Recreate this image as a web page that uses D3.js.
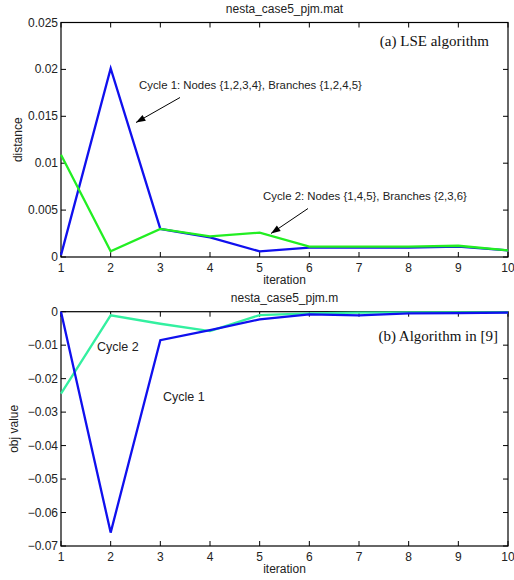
<!DOCTYPE html>
<html><head><meta charset="utf-8">
<script src="https://cdn.jsdelivr.net/npm/d3@7"></script>
<style>body{margin:0;background:#fff}svg{display:block}</style>
</head><body><svg id="c" width="514" height="580" font-family="Liberation Sans, Arial, sans-serif"></svg>
<script>
const iterations = [1,2,3,4,5,6,7,8,9,10];
// top panel: distance
const lseCycle1 = [0.0002,0.0201,0.0030,0.0021,0.0006,0.0010,0.0010,0.0010,0.0011,0.0007];
const lseCycle2 = [0.0109,0.0006,0.0030,0.0022,0.0026,0.0011,0.0011,0.0011,0.0012,0.0007];
// bottom panel: obj value
const algCycle1 = [0,-0.0660,-0.0085,-0.0055,-0.0023,-0.0008,-0.0011,-0.0005,-0.0004,-0.0003];
const algCycle2 = [-0.0245,-0.0011,-0.0036,-0.0058,-0.0010,-0.0005,-0.0003,-0.0002,-0.0002,-0.0002];
const topYTicks = [0,0.005,0.01,0.015,0.02,0.025];
const botYTicks = [0,-0.01,-0.02,-0.03,-0.04,-0.05,-0.06,-0.07];

const svg = d3.select("#c");
const L = 61, R = 508;
const x = d3.scaleLinear().domain([1,10]).range([L,R]);
const FS = 12;

function panel(y0, y1, dom, yticks, fmt, series, titleTxt, ylab, ylabX) {
  const y = d3.scaleLinear().domain(dom).range([y1,y0]);
  const g = svg.append("g");
  g.append("rect").attr("x",L).attr("y",y0).attr("width",R-L).attr("height",y1-y0)
   .attr("fill","none").attr("stroke","#000").attr("stroke-width",1.2);
  const tl = 5;
  iterations.forEach(v=>{
    g.append("line").attr("x1",x(v)).attr("x2",x(v)).attr("y1",y1).attr("y2",y1-tl).attr("stroke","#000");
    g.append("line").attr("x1",x(v)).attr("x2",x(v)).attr("y1",y0).attr("y2",y0+tl).attr("stroke","#000");
    g.append("text").attr("x",x(v)).attr("y",y1+15).attr("text-anchor","middle")
     .attr("font-size",FS).attr("fill","#222").text(v);
  });
  yticks.forEach(v=>{
    g.append("line").attr("x1",L).attr("x2",L+tl).attr("y1",y(v)).attr("y2",y(v)).attr("stroke","#000");
    g.append("line").attr("x1",R).attr("x2",R-tl).attr("y1",y(v)).attr("y2",y(v)).attr("stroke","#000");
    g.append("text").attr("x",L-3).attr("y",y(v)+4).attr("text-anchor","end")
     .attr("font-size",FS).attr("fill","#222").text(fmt(v));
  });
  const line = d3.line().x((d,i)=>x(iterations[i])).y(d=>y(d));
  series.forEach(s=>{
    g.append("path").attr("d",line(s.data)).attr("fill","none").attr("stroke",s.color)
     .attr("stroke-width",2.3).attr("stroke-linejoin","miter");
  });
  g.append("text").attr("x",(L+R)/2).attr("y",y1+27).attr("text-anchor","middle")
   .attr("font-size",FS).attr("fill","#222").text("iteration");
  g.append("text").attr("x",(L+R)/2).attr("y",y0-10).attr("text-anchor","middle")
   .attr("font-size",FS).attr("fill","#222").text(titleTxt);
  g.append("text").attr("transform",`translate(${ylabX},${(y0+y1)/2}) rotate(-90)`)
   .attr("text-anchor","middle").attr("font-size",FS).attr("fill","#222").text(ylab);
  return y;
}

const fmtTop = v => v===0 ? "0" : String(+v.toFixed(3));
const fmtBot = v => v===0 ? "0" : "\u2212" + String(+Math.abs(v).toFixed(2));

panel(22.5, 257, [0,0.025], topYTicks, fmtTop,
  [{data:lseCycle1,color:"#1010ee"},{data:lseCycle2,color:"#22ee22"}],
  "nesta_case5_pjm.mat","distance",22);
panel(311.7, 546, [-0.07,0], botYTicks, fmtBot,
  [{data:algCycle2,color:"#33f0a0"},{data:algCycle1,color:"#1010ee"}],
  "nesta_case5_pjm.m","obj value",18);

const serif = "Liberation Serif, Times New Roman, serif";
svg.append("text").attr("x",489).attr("y",46).attr("text-anchor","end")
  .style("font-family",serif).attr("font-size",15).attr("fill","#111").text("(a) LSE algorithm");
svg.append("text").attr("x",498).attr("y",341).attr("text-anchor","end")
  .style("font-family",serif).attr("font-size",15).attr("fill","#111").text("(b) Algorithm in [9]");

svg.append("text").attr("x",139).attr("y",88.5).attr("font-size",11.4).attr("fill","#222")
  .text("Cycle 1: Nodes {1,2,3,4}, Branches {1,2,4,5}");
svg.append("text").attr("x",263).attr("y",200).attr("font-size",11.4).attr("fill","#222")
  .text("Cycle 2: Nodes {1,4,5}, Branches {2,3,6}");
svg.append("text").attr("x",97).attr("y",351).attr("font-size",12.5).attr("fill","#222").text("Cycle 2");
svg.append("text").attr("x",163).attr("y",401).attr("font-size",12.5).attr("fill","#222").text("Cycle 1");

function arrow(x1,y1,x2,y2){
  svg.append("line").attr("x1",x1).attr("y1",y1).attr("x2",x2).attr("y2",y2)
    .attr("stroke","#000").attr("stroke-width",1);
  const a = Math.atan2(y2-y1,x2-x1), len=10, w=0.35;
  const p = [[x2,y2],[x2-len*Math.cos(a-w),y2-len*Math.sin(a-w)],[x2-len*Math.cos(a+w),y2-len*Math.sin(a+w)]];
  svg.append("polygon").attr("points",p.map(d=>d.join(",")).join(" ")).attr("fill","#000");
}
arrow(180,97.5,136,122.5);
arrow(308,208.5,271,233.5);
</script></body></html>
